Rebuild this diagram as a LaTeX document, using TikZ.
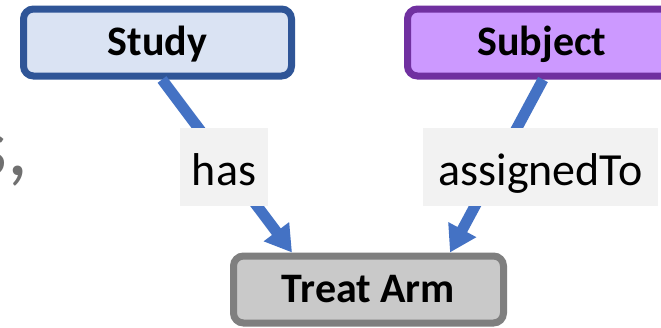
\documentclass[tikz,border=0pt]{standalone}
\usepackage{fontspec}
\setmainfont{Carlito}
\usetikzlibrary{arrows.meta}

\definecolor{studyfill}{HTML}{DAE3F3}
\definecolor{studyline}{HTML}{2F5597}
\definecolor{subjfill}{HTML}{CC99FF}
\definecolor{subjline}{HTML}{7030A0}
\definecolor{armfill}{HTML}{C9C9C9}
\definecolor{armline}{HTML}{7F7F7F}
\definecolor{linkblue}{HTML}{4472C4}
\definecolor{tagfill}{HTML}{F2F2F2}
\definecolor{fragtext}{HTML}{707070}

\begin{document}
\begin{tikzpicture}[x=1pt, y=-1pt,
  entity/.style={draw, line width=7pt, rounded corners=10pt, inner sep=0pt,
    minimum width=#1, minimum height=67pt,
    font=\bfseries\fontsize{42}{42}\selectfont, text height=26pt, text depth=0pt},
  link/.style={draw=linkblue, line width=11pt,
    -{Triangle[length=26pt, width=30pt]}},
  tag/.style={fill=tagfill, inner sep=0pt, minimum height=78pt,
    font=\fontsize{46}{46}\selectfont, text height=36pt, text depth=0pt}]

  % canvas
  \fill[white] (0,0) rectangle (661,327);
  \useasboundingbox (0,0) rectangle (661,327);

  % trailing piece of a sentence at the left edge
  \node[anchor=base east, inner sep=0pt, text=fragtext,
        font=\fontsize{84}{84}\selectfont] (frag) at (29,175) {s,};

  % entities
  \node[entity=268pt, fill=studyfill, draw=studyline] (study) at (157.5,42.5) {Study};
  \node[entity=269pt, fill=subjfill, draw=subjline] (subject) at (542,42.5) {Subject};
  \node[entity=270pt, fill=armfill, draw=armline] (arm) at (368.5,289.5) {Treat Arm};

  % relations
  \draw[link] ([xshift=4.5pt]study.south) -- ([xshift=-76.5pt]arm.north);
  \draw[link] ([xshift=1pt]subject.south) -- ([xshift=81.5pt]arm.north);

  % relation names
  \node[tag, minimum width=88pt] (has) at (224,167) {has};
  \node[tag, minimum width=235pt] (assigned) at (540.5,167) {assignedTo};
\end{tikzpicture}
\end{document}
